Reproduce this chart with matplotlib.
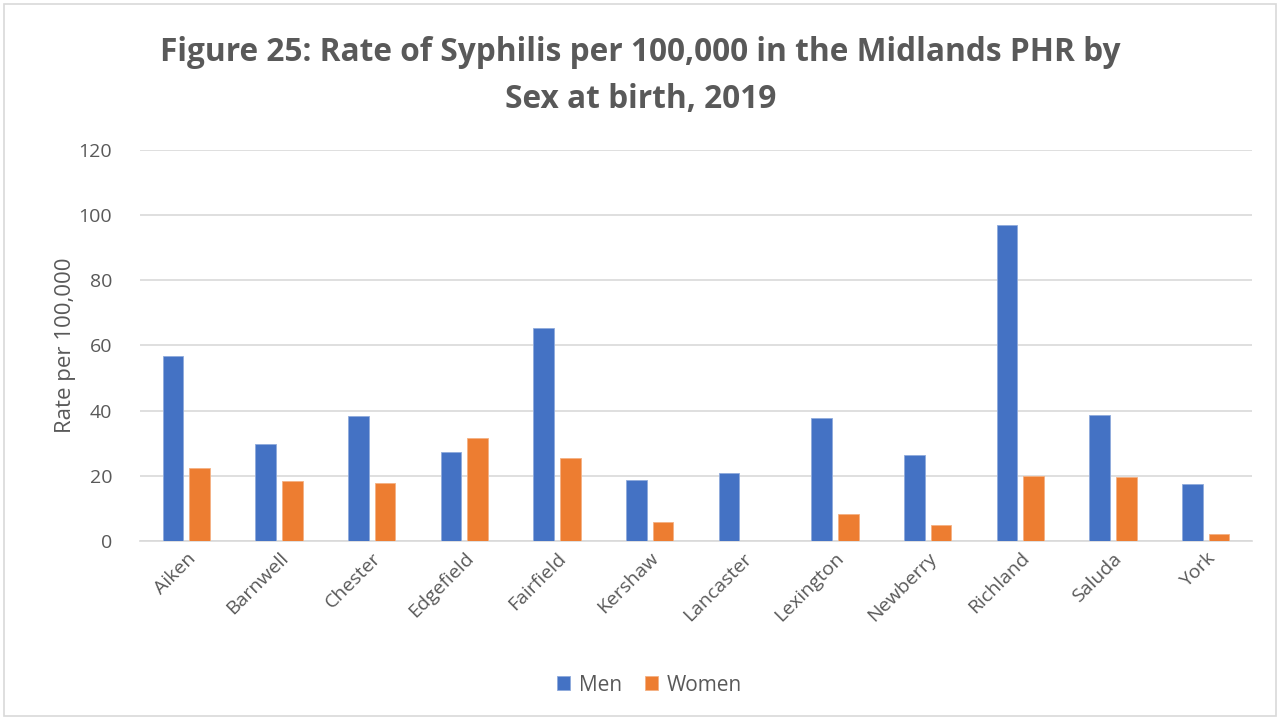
import numpy as np
import matplotlib.pyplot as plt
from matplotlib.patches import Rectangle

counties = ['Aiken', 'Barnwell', 'Chester', 'Edgefield', 'Fairfield', 'Kershaw',
            'Lancaster', 'Lexington', 'Newberry', 'Richland', 'Saluda', 'York']
men = [56.9, 29.9, 38.5, 27.3, 65.4, 18.6, 20.9, 37.8, 26.5, 97.0, 38.7, 17.5]
women = [22.5, 18.3, 17.8, 31.6, 25.6, 5.8, 0.0, 8.4, 5.0, 20.0, 19.7, 2.0]
yticks = [0, 20, 40, 60, 80, 100, 120]

plt.rcParams['font.family'] = ['Open Sans', 'DejaVu Sans']
grey = '#595959'

fig = plt.figure(figsize=(12.81, 7.19), dpi=100)
ax = fig.add_axes([0.1093, 0.2476, 0.868, 0.5438])

x = np.arange(len(counties))
w = 0.224
ax.bar(x - 0.144, men, w, color='#4472C4', edgecolor='#8faadc', linewidth=0.6, label='Men', zorder=3)
ax.bar(x + 0.144, women, w, color='#ED7D31', edgecolor='#f4b183', linewidth=0.6, label='Women', zorder=3)

ax.set_xlim(-0.5, len(counties) - 0.5)
ax.set_ylim(0, 120)
ax.set_yticks(yticks)
ax.yaxis.grid(True, color='#d9d9d9', linewidth=1.2, zorder=0)
ax.set_axisbelow(True)
for s in ['top', 'right', 'left']:
    ax.spines[s].set_visible(False)
ax.spines['bottom'].set_color('#d9d9d9')
ax.spines['bottom'].set_linewidth(1.2)
ax.tick_params(axis='both', length=0, colors=grey, labelsize=14)
ax.tick_params(axis='y', pad=20)
ax.tick_params(axis='x', pad=6)
ax.set_xticks(x)
ax.set_xticklabels(counties, rotation=45, ha='right', rotation_mode='anchor')
ax.set_ylabel('Rate per 100,000', fontsize=16, color=grey, labelpad=2)

fig.suptitle('Figure 25: Rate of Syphilis per 100,000 in the Midlands PHR by\nSex at birth, 2019',
             fontsize=22.8, fontweight='bold', color=grey, y=0.95, linespacing=1.55)

fig.legend(*ax.get_legend_handles_labels(), loc='center', bbox_to_anchor=(0.507, 0.047),
           ncol=2, frameon=False, fontsize=15, labelcolor=grey, handlelength=0.65,
           handleheight=0.65, columnspacing=1.1, handletextpad=0.4)

fig.patches.append(Rectangle((0.003, 0.004), 0.993, 0.99, transform=fig.transFigure,
                             fill=False, edgecolor='#d9d9d9', linewidth=1.2))

fig.savefig('out.png', dpi=100)
